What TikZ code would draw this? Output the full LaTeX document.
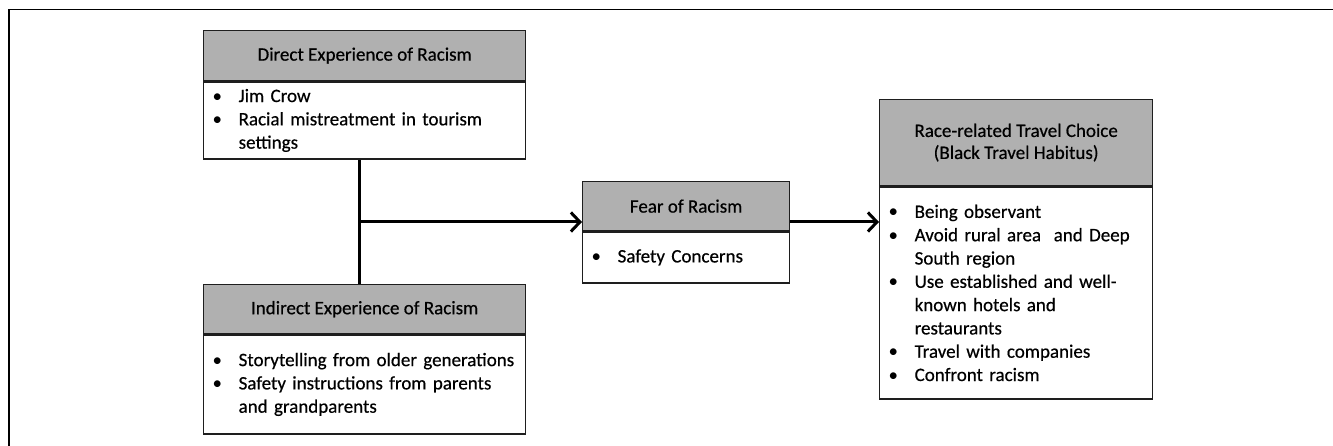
\documentclass[tikz,border=0pt]{standalone}
\usepackage{fontspec}
\setmainfont{Carlito}
\newfontfamily\boxfont{Carlito}[BoldFont=Carlito, BoldFeatures={FakeBold=0.5}]
\usepackage{xcolor}
\usetikzlibrary{arrows.meta,positioning,calc}
\definecolor{headgray}{RGB}{176,176,176}
\definecolor{edge}{RGB}{30,30,30}
\newcommand{\bl}{\makebox[26pt][l]{\mdseries\textbullet}}
\newcommand{\hang}{\hspace*{26pt}}
\tikzset{
  head/.style={draw=edge, fill=headgray, line width=1.3pt, align=center,
               font=\boxfont\bfseries\fontsize{19}{22}\selectfont, inner sep=0pt},
  body/.style={draw=edge, fill=white, line width=1.3pt, align=left,
               font=\boxfont\bfseries\fontsize{19}{23.3}\selectfont, inner xsep=9pt, inner ysep=0pt},
  flow/.style={-{Straight Barb[length=9pt,width=19pt,line width=3pt]}, line width=3pt},
  link/.style={line width=3pt},
}
\begin{document}
\begin{tikzpicture}[x=1pt,y=-1pt]
\useasboundingbox (0,0) rectangle (1333,446);
% outer frame
\draw[line width=1.6pt] (9,446) -- (9,9.5) -- (1333,9.5);
% direct experience
\node[head, anchor=north west, minimum width=322pt, minimum height=50pt] (dirhead) at (203,30) {Direct Experience of Racism};
\node[body, below=0pt of dirhead, text width=304pt, minimum height=77pt] (dirbody)
  {\bl Jim Crow\\ \bl Racial mistreatment in tourism\\ \hang settings};
% indirect experience
\node[head, anchor=north west, minimum width=322pt, minimum height=49pt] (indhead) at (203,284) {Indirect Experience of Racism};
\node[body, below=0pt of indhead, text width=304pt, minimum height=99pt] (indbody)
  {\bl Storytelling from older generations\\ \bl Safety instructions from parents\\ \hang and grandparents};
% fear
\node[head, anchor=north west, minimum width=207pt, minimum height=49pt] (fearhead) at (582,181) {Fear of Racism};
\node[body, below=0pt of fearhead, text width=189pt, minimum height=51pt] (fearbody)
  {\bl Safety Concerns};
% travel choice
\node[head, anchor=north west, minimum width=273pt, minimum height=86pt] (racehead) at (879,99) {Race-related Travel Choice\\(Black Travel Habitus)};
\node[body, below=0pt of racehead, text width=255pt, minimum height=212pt] (racebody)
  {\bl Being observant\\ \bl Avoid rural area\ \ and Deep\\ \hang South region\\ \bl Use established and well-\\ \hang known hotels and\\ \hang restaurants\\ \bl Travel with companies\\ \bl Confront racism};
% connectors
\coordinate (junc) at (359,222);
\draw[link] (dirbody.south -| junc) -- (indhead.north -| junc);
\draw[flow] (junc) -- (junc -| fearhead.west);
\draw[flow] (junc -| fearhead.east) -- (junc -| racehead.west);
\end{tikzpicture}
\end{document}
